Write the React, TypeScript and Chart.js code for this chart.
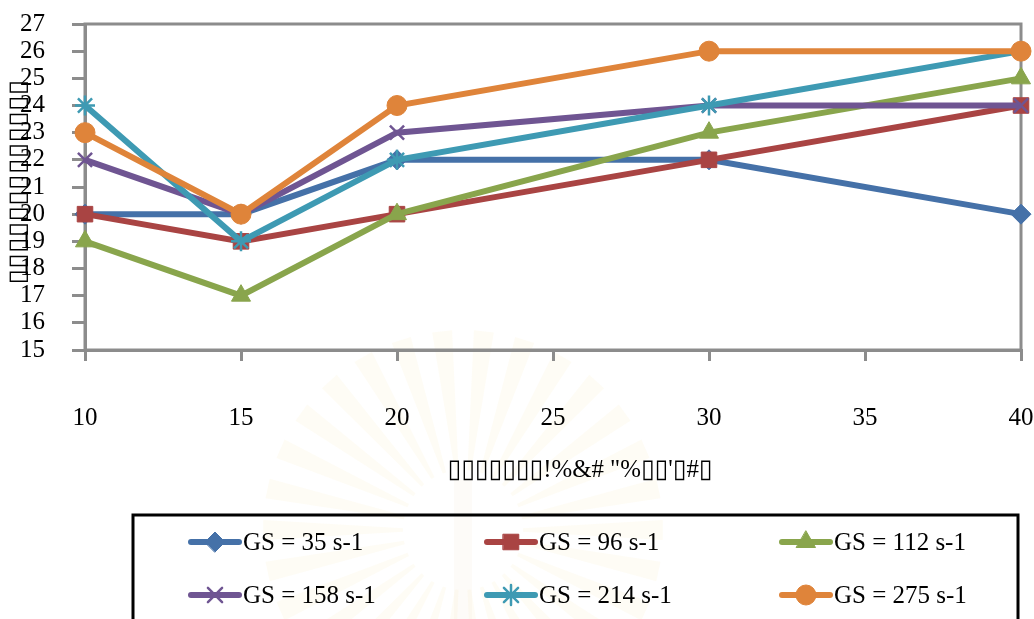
import React, { useEffect, useRef } from "react";
import { Chart, registerables } from "chart.js";
import { drawPoint } from "chart.js/helpers";

Chart.register(...registerables);

// Gap (mm) on the x axis; measured values per shear rate series
const gapValues = [10, 15, 20, 30, 40];
const seriesLabels = [
  "GS = 35 s-1",
  "GS = 96 s-1",
  "GS = 112 s-1",
  "GS = 158 s-1",
  "GS = 214 s-1",
  "GS = 275 s-1",
];
const gs35 = [20, 20, 22, 22, 20];
const gs96 = [20, 19, 20, 22, 24];
const gs112 = [19, 17, 20, 23, 25];
const gs158 = [22, 20, 23, 24, 24];
const gs214 = [24, 19, 22, 24, 26];
const gs275 = [23, 20, 24, 26, 26];
const seriesValues = [gs35, gs96, gs112, gs158, gs214, gs275];

const xTitle = "▯▯▯▯▯▯▯!%&# \"%▯▯'▯#▯";
const yTitle = "▯▯▯▯▯▯▯▯▯▯▯▯▯";

const colors = ["#4571A8", "#A94443", "#89A54C", "#6F5592", "#3E9AB3", "#DF843A"];
const pointStyles = ["rectRot", "rect", "triangle", "crossRot", "star", "circle"];
const pointRadii = [10, 11, 11, 10, 10, 10];

const AXIS_GREY = "#8C8C8C";
const SERIF = "'Liberation Serif', 'DejaVu Serif', serif";

// draws text centred at (x, y), stretched along its baseline to a given width
function fitText(ctx: CanvasRenderingContext2D, text: string, x: number, y: number, width: number, angle: number) {
  const w = ctx.measureText(text).width;
  ctx.save();
  ctx.translate(x, y);
  ctx.rotate(angle);
  ctx.scale(width / w, 1);
  ctx.fillText(text, 0, 0);
  ctx.restore();
}

const decorPlugin = {
  id: "decor",
  beforeDraw(chart: any) {
    const ctx = chart.ctx;
    ctx.save();
    ctx.fillStyle = "#ffffff";
    ctx.fillRect(0, 0, chart.width, chart.height);
    // faint sunburst emblem in the background
    const cx = 463;
    const cy = 530;
    const rays = 30;
    for (let i = 0; i < rays; i++) {
      const a = (i / rays) * Math.PI * 2;
      const w = 0.05;
      const r0 = 60;
      const r1 = 200;
      ctx.beginPath();
      ctx.moveTo(cx + Math.cos(a - w * 0.6) * r0, cy + Math.sin(a - w * 0.6) * r0);
      ctx.lineTo(cx + Math.cos(a - w) * r1, cy + Math.sin(a - w) * r1);
      ctx.lineTo(cx + Math.cos(a + w) * r1, cy + Math.sin(a + w) * r1);
      ctx.lineTo(cx + Math.cos(a + w * 0.6) * r0, cy + Math.sin(a + w * 0.6) * r0);
      ctx.closePath();
      ctx.fillStyle = "rgba(246, 222, 140, 0.09)";
      ctx.fill();
    }
    ctx.fillStyle = "rgba(235, 225, 200, 0.12)";
    ctx.fillRect(cx - 9, cy - 50, 18, 140);
    ctx.restore();
  },
  beforeDatasetsDraw(chart: any) {
    const { ctx, chartArea } = chart;
    ctx.save();
    ctx.strokeStyle = AXIS_GREY;
    ctx.lineWidth = 3;
    ctx.strokeRect(chartArea.left, chartArea.top, chartArea.right - chartArea.left, chartArea.bottom - chartArea.top);
    ctx.restore();
  },
  afterDraw(chart: any) {
    const ctx = chart.ctx;
    ctx.save();
    // axis titles
    ctx.fillStyle = "#000";
    ctx.textBaseline = "middle";
    ctx.textAlign = "center";
    ctx.font = `26px ${SERIF}`;
    fitText(ctx, xTitle, 580, 470, 265, 0);
    ctx.font = `24px ${SERIF}`;
    fitText(ctx, yTitle, 19, 182, 205, -Math.PI / 2);

    // legend box
    ctx.strokeStyle = "#000";
    ctx.lineWidth = 3;
    ctx.strokeRect(133, 515, 885, 140);
    const cols = [188, 484, 779];
    const rows = [542, 595];
    ctx.font = `25px ${SERIF}`;
    ctx.textAlign = "left";
    chart.data.datasets.forEach((ds: any, i: number) => {
      const x = cols[i % 3];
      const y = rows[Math.floor(i / 3)];
      ctx.strokeStyle = ds.borderColor;
      ctx.lineWidth = 6;
      ctx.lineCap = "round";
      ctx.beginPath();
      ctx.moveTo(x + 3, y);
      ctx.lineTo(x + 51, y);
      ctx.stroke();
      ctx.fillStyle = ds.backgroundColor;
      ctx.strokeStyle = ds.borderColor;
      ctx.lineWidth = ds.pointBorderWidth;
      drawPoint(ctx, { pointStyle: ds.pointStyle, radius: ds.pointRadius, rotation: 0, borderWidth: ds.pointBorderWidth }, x + 27, y);
      ctx.fillStyle = "#000";
      ctx.fillText(ds.label, x + 55, y + 1);
    });
    ctx.restore();
  },
};

export default function App() {
  const canvasRef = useRef<HTMLCanvasElement | null>(null);

  useEffect(() => {
    document.body.style.margin = "0";
    const canvas = canvasRef.current;
    if (!canvas) return;
    const datasets = seriesValues.map((vals, i) => ({
      label: seriesLabels[i],
      data: gapValues.map((g, j) => ({ x: g, y: vals[j] })),
      borderColor: colors[i],
      backgroundColor: colors[i],
      borderWidth: 6,
      pointStyle: pointStyles[i],
      pointRadius: pointRadii[i],
      pointBorderWidth: pointStyles[i] === "crossRot" || pointStyles[i] === "star" ? 2.5 : 1,
      pointBorderColor: colors[i],
      pointBackgroundColor: colors[i],
      tension: 0,
      clip: false as any,
      order: seriesValues.length - i,
    }));

    const chart = new Chart(canvas, {
      type: "line",
      data: { datasets },
      plugins: [decorPlugin],
      options: {
        animation: false,
        responsive: false,
        maintainAspectRatio: false,
        layout: { padding: { left: 0, top: 24, right: 13, bottom: 0 } },
        plugins: {
          legend: { display: false },
          tooltip: { enabled: false },
          title: { display: false },
        },
        scales: {
          x: {
            type: "linear",
            min: 10,
            max: 40,
            afterFit(scale: any) {
              scale.height = 269;
              scale.paddingLeft = 0;
              scale.paddingRight = 0;
            },
            ticks: {
              stepSize: 5,
              padding: 42,
              color: "#000",
              font: { family: SERIF, size: 25 },
              maxRotation: 0,
              autoSkip: false,
            },
            grid: {
              drawOnChartArea: false,
              drawTicks: true,
              tickLength: 11,
              color: AXIS_GREY,
              lineWidth: 3,
            },
            border: { display: true, color: AXIS_GREY, width: 3 },
          },
          y: {
            min: 15,
            max: 27,
            afterFit(scale: any) {
              scale.width = 85;
              scale.paddingTop = 0;
              scale.paddingBottom = 0;
            },
            ticks: {
              stepSize: 1,
              padding: 27,
              color: "#000",
              font: { family: SERIF, size: 25 },
              autoSkip: false,
            },
            grid: {
              drawOnChartArea: false,
              drawTicks: true,
              tickLength: 13,
              color: AXIS_GREY,
              lineWidth: 3,
            },
            border: { display: true, color: AXIS_GREY, width: 3 },
          },
        },
      },
    });
    return () => chart.destroy();
  }, []);

  return (
    <div style={{ width: 1034, height: 619 }}>
      <canvas ref={canvasRef} width={1034} height={619} style={{ display: "block", width: 1034, height: 619 }} />
    </div>
  );
}
